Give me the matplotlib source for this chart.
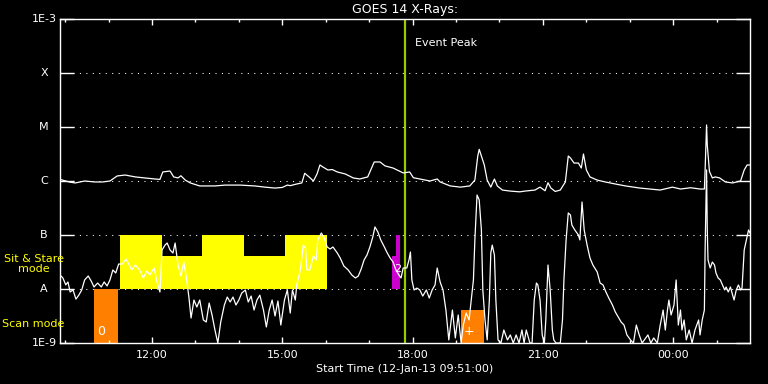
import matplotlib
matplotlib.use('Agg')
import matplotlib.pyplot as plt
from matplotlib.ticker import FixedLocator, NullLocator, FuncFormatter

# time in minutes after start (12-Jan-13 09:51), flux in W/m^2
long_t = [2, 16, 23, 36, 50, 61, 71, 81, 92, 106, 119, 133, 140, 144, 154, 159,
          165, 169, 175, 182, 195, 216, 230, 251, 271, 285, 299, 309, 316, 320,
          329, 336, 340, 346, 352, 357, 361, 365, 372, 378, 385, 396, 407, 416,
          427, 436, 444, 451, 462, 476, 485, 490, 499, 513, 523, 527, 541, 555,
          568, 575, 579, 581, 588, 592, 597, 602, 606, 613, 624, 637, 644, 658,
          665, 672, 676, 680, 686, 693, 700, 704, 707, 712, 718, 722, 725, 729,
          734, 744, 755, 769, 783, 803, 831, 848, 859, 873, 886, 892, 893, 895,
          896, 899, 903, 907, 913, 921, 931, 942, 947, 951, 955]
long_f = [1.07e-6, 9.5e-7, 9.2e-7, 1.0e-6, 9.6e-7, 9.6e-7, 1.0e-6, 1.24e-6,
          1.29e-6, 1.19e-6, 1.14e-6, 1.09e-6, 1.07e-6, 1.47e-6, 1.53e-6, 1.19e-6,
          1.14e-6, 1.25e-6, 1.04e-6, 9.2e-7, 8.1e-7, 8.1e-7, 8.4e-7, 8.4e-7,
          8.1e-7, 7.7e-7, 7.4e-7, 7.6e-7, 8.4e-7, 8.2e-7, 8.8e-7, 9.2e-7,
          1.39e-6, 1.19e-6, 1.0e-6, 1.35e-6, 1.98e-6, 1.82e-6, 1.6e-6, 1.63e-6,
          1.47e-6, 1.35e-6, 1.14e-6, 1.09e-6, 1.19e-6, 2.25e-6, 2.25e-6, 1.9e-6,
          1.74e-6, 1.41e-6, 1.47e-6, 1.15e-6, 1.09e-6, 1.0e-6, 1.09e-6, 9.6e-7,
          8.1e-7, 7.7e-7, 8.1e-7, 1.04e-6, 2.9e-6, 3.86e-6, 1.98e-6, 1.04e-6,
          7.7e-7, 1.09e-6, 8.1e-7, 6.8e-7, 6.5e-7, 6.3e-7, 6.5e-7, 6.8e-7,
          7.7e-7, 6.6e-7, 9.3e-7, 7.4e-7, 6.4e-7, 6.8e-7, 9.6e-7, 2.9e-6,
          2.67e-6, 2.15e-6, 2.15e-6, 1.74e-6, 3.16e-6, 1.6e-6, 1.19e-6, 1.04e-6,
          9.6e-7, 8.8e-7, 8.1e-7, 7.4e-7, 6.8e-7, 7.7e-7, 7.1e-7, 7.5e-7,
          7.1e-7, 7.1e-7, 1.6e-6, 1.09e-5, 4.6e-6, 1.5e-6, 1.14e-6, 1.19e-6,
          1.14e-6, 9.6e-7, 9.2e-7, 1.0e-6, 1.6e-6, 1.98e-6, 1.98e-6]

short_t = [2, 6, 10, 13, 16, 20, 24, 28, 32, 36, 41, 45, 49, 54, 59, 63, 67, 71,
           75, 79, 83, 88, 93, 97, 101, 106, 112, 117, 122, 126, 132, 136, 140,
           143, 147, 150, 154, 158, 161, 165, 169, 173, 177, 180, 183, 187, 191,
           195, 200, 204, 208, 212, 216, 220, 224, 229, 233, 237, 241, 245, 249,
           253, 258, 262, 266, 270, 274, 278, 283, 287, 291, 295, 299, 303, 307,
           312, 316, 320, 323, 327, 329, 334, 338, 341, 343, 347, 352, 356, 358,
           363, 367, 371, 375, 379, 385, 389, 394, 400, 405, 410, 414, 418, 422,
           426, 430, 434, 437, 441, 445, 450, 454, 458, 462, 466, 470, 473, 476,
           481, 484, 486, 488, 491, 495, 499, 503, 508, 512, 516, 520, 523, 527,
           531, 535, 539, 544, 548, 552, 556, 559, 563, 567, 570, 573, 575, 578,
           581, 584, 586, 589, 592, 595, 597, 599, 602, 604, 607, 611, 615, 620,
           624, 628, 632, 636, 640, 643, 646, 649, 651, 654, 657, 660, 662, 665,
           668, 671, 673, 676, 679, 682, 684, 687, 693, 696, 698, 701, 704, 707,
           709, 713, 718, 720, 723, 726, 730, 734, 738, 744, 748, 752, 756, 760,
           765, 769, 773, 777, 781, 785, 790, 794, 798, 802, 806, 814, 818, 822,
           827, 831, 835, 838, 841, 843, 846, 850, 853, 856, 859, 861, 864, 867,
           871, 875, 879, 884, 886, 889, 892, 893, 895, 896, 897, 900, 903, 906,
           908, 911, 914, 917, 920, 922, 925, 928, 931, 933, 936, 939, 942, 944,
           947, 950, 953, 955]
short_f = [1.82e-8, 1.6e-8, 1.19e-8, 1.35e-8, 8.8e-9, 9.6e-9, 6.5e-9, 7.7e-9,
           9.6e-9, 1.47e-8, 1.74e-8, 1.41e-8, 1.09e-8, 1.29e-8, 1.09e-8, 1.35e-8,
           1.14e-8, 1.47e-8, 2.25e-8, 1.98e-8, 2.9e-8, 2.9e-8, 3.59e-8, 2.9e-8,
           2.25e-8, 2.78e-8, 2.25e-8, 1.6e-8, 2.15e-8, 1.82e-8, 2.45e-8, 1.35e-8,
           8.8e-9, 5.28e-8, 6.5e-8, 7.1e-8, 5.28e-8, 4.64e-8, 7.1e-8, 2.78e-8,
           1.74e-8, 3.16e-8, 1.47e-8, 7.1e-9, 2.9e-9, 6.25e-9, 4.64e-9, 6.25e-9,
           2.67e-9, 2.45e-9, 5.5e-9, 3.3e-9, 1.74e-9, 1.0e-9, 2.45e-9, 5.05e-9,
           7.1e-9, 5.75e-9, 7.1e-9, 5.05e-9, 6.25e-9, 8.4e-9, 9.6e-9, 5.75e-9,
           7.4e-9, 4.08e-9, 6.25e-9, 7.7e-9, 4.08e-9, 1.98e-9, 4.08e-9, 6.25e-9,
           3.16e-9, 6.0e-9, 2.15e-9, 6.25e-9, 9.6e-9, 3.59e-9, 9.6e-9, 6.25e-9,
           1.19e-8, 2.25e-8, 6.5e-8, 5.75e-8, 2.25e-8, 2.25e-8, 4.08e-8, 3.45e-8,
           8.1e-8, 1.09e-7, 8.8e-8, 6.0e-8, 5.5e-8, 6.0e-8, 4.64e-8, 3.75e-8,
           2.67e-8, 2.25e-8, 1.82e-8, 1.6e-8, 1.74e-8, 2.35e-8, 3.45e-8, 4.26e-8,
           6.0e-8, 9.2e-8, 1.41e-7, 1.14e-7, 8.1e-8, 6.0e-8, 4.64e-8, 3.75e-8,
           3.16e-8, 2.25e-8, 1.82e-8, 1.6e-8, 2.45e-8, 2.45e-8, 3.45e-8, 4.84e-8,
           1.47e-8, 9.6e-9, 1.04e-8, 9.6e-9, 7.4e-9, 9.6e-9, 6.8e-9, 9.6e-9,
           1.19e-8, 2.45e-8, 1.35e-8, 9.6e-9, 4.08e-9, 1.14e-9, 4.08e-9, 1.24e-9,
           3.3e-9, 1.0e-9, 2.15e-9, 3.59e-9, 2.67e-9, 6.25e-9, 1.47e-8, 8.1e-8,
           5.5e-7, 4.45e-7, 1.24e-7, 9.6e-9, 2.67e-9, 1.14e-9, 6.25e-9, 4.64e-8,
           6.5e-8, 4.26e-8, 6.25e-9, 1.14e-9, 1.0e-9, 1.74e-9, 1.14e-9, 1.41e-9,
           1.0e-9, 1.41e-9, 1.0e-9, 1.74e-9, 1.0e-9, 1.74e-9, 1.24e-9, 1.0e-9,
           1.0e-9, 6.25e-9, 1.29e-8, 1.19e-8, 6.25e-9, 1.41e-9, 1.0e-9, 2.67e-9,
           2.78e-8, 9.6e-9, 1.74e-9, 1.14e-9, 1.0e-9, 1.0e-9, 2.67e-9, 1.47e-8,
           8.1e-8, 2.56e-7, 2.35e-7, 1.53e-7, 1.24e-7, 1.0e-7, 8.1e-8, 4.08e-7,
           1.24e-7, 6.5e-8, 3.75e-8, 2.78e-8, 2.06e-8, 1.29e-8, 1.19e-8, 8.8e-9,
           6.8e-9, 5.05e-9, 3.75e-9, 3.03e-9, 2.45e-9, 2.15e-9, 1.41e-9, 1.14e-9,
           1.0e-9, 2.15e-9, 1.41e-9, 1.0e-9, 1.41e-9, 1.0e-9, 1.24e-9, 1.0e-9,
           2.15e-9, 4.08e-9, 1.74e-9, 4.08e-9, 6.25e-9, 3.3e-9, 5.05e-9, 1.47e-8,
           2.15e-9, 4.08e-9, 1.74e-9, 2.67e-9, 1.14e-9, 1.74e-9, 1.0e-9, 1.74e-9,
           2.67e-9, 1.41e-9, 2.67e-9, 4.08e-9, 5.28e-8, 1.6e-6, 1.24e-7, 3.45e-8,
           2.45e-8, 3.16e-8, 2.78e-8, 1.98e-8, 1.6e-8, 1.47e-8, 1.19e-8, 9.6e-9,
           1.09e-8, 8.8e-9, 1.09e-8, 7.7e-9, 6.25e-9, 9.6e-9, 1.19e-8, 9.6e-9,
           1.04e-8, 5.28e-8, 8.1e-8, 1.24e-7, 1.09e-7]

# observation blocks: start, end (minutes), top flux; bottoms are fixed per mode
sit_start = [85, 143, 198, 256, 313]
sit_end = [143, 198, 256, 313, 371]
sit_top = [1e-7, 4.08e-8, 1e-7, 4.08e-8, 1e-7]
mag_start = [461, 466]
mag_end = [466, 472]
mag_top = [4.08e-8, 1e-7]
scan_start = [49, 556]
scan_end = [82, 588]
scan_top = [1e-8, 4.08e-9]
scan_labels = ['0', '+']

event_peak = 479
start_minutes = 9 * 60 + 51

yvals = [1e-9, 1e-8, 1e-7, 1e-6, 1e-5, 1e-4, 1e-3]
ynames = ['1E-9', 'A', 'B', 'C', 'M', 'X', '1E-3']

fig = plt.figure(figsize=(7.68, 3.84), dpi=100, facecolor='black')
ax = fig.add_axes([60 / 768, 41 / 384, 690 / 768, 324 / 384])
ax.set_facecolor('black')
ax.set_yscale('log')
ax.set_ylim(1e-9, 1e-3)
ax.set_xlim(2, 955)

# blocks
ax.bar(sit_start, [t - 1e-8 for t in sit_top], bottom=1e-8,
       width=[e - s for s, e in zip(sit_start, sit_end)], align='edge',
       color='#ffff00', lw=0, zorder=1)
ax.bar(mag_start, [t - 1e-8 for t in mag_top], bottom=1e-8,
       width=[e - s for s, e in zip(mag_start, mag_end)], align='edge',
       color='#cc00cc', lw=0, zorder=1)
ax.bar(scan_start, [t - 1e-9 for t in scan_top], bottom=1e-9,
       width=[e - s for s, e in zip(scan_start, scan_end)], align='edge',
       color='#ff8000', lw=0, zorder=1)
for s, e, lab in zip(scan_start, scan_end, scan_labels):
    ax.text(s + 4, 1.6e-9, lab, color='white', fontsize=9, va='center', zorder=4)
ax.text(mag_start[0] + 3, 2.3e-8, '2', color='white', fontsize=8,
        va='center', zorder=4)

# curves
ax.plot(long_t, long_f, color='white', lw=0.9, zorder=3)
ax.plot(short_t, short_f, color='white', lw=0.9, zorder=3)

# event peak
ax.axvline(event_peak, color='#99cc00', lw=1.6, zorder=2)
ax.text(event_peak + 14, 10 ** -3.45, 'Event Peak', color='white', fontsize=8,
        va='center')

# y axis
ax.yaxis.set_major_locator(FixedLocator(yvals))
ax.yaxis.set_minor_locator(NullLocator())
ax.set_yticklabels([])
for v, n in zip(yvals, ynames):
    ax.text(-16 / 690, v, n, transform=ax.get_yaxis_transform(), color='white',
            fontsize=8, ha='center', va='center')
for v in yvals[1:-1]:
    ax.axhline(v, color='white', lw=0.75, ls=(0, (1, 5.2)), zorder=0)
ax.tick_params(axis='y', which='major', direction='in', length=10, width=1,
               left=True, right=True, colors='white')

# x axis
ax.xaxis.set_major_locator(FixedLocator([129, 309, 489, 669, 849]))
ax.xaxis.set_minor_locator(FixedLocator(list(range(9, 955, 60))))
ax.xaxis.set_major_formatter(FuncFormatter(
    lambda m, p: '%02d:%02d' % (((start_minutes + m) // 60) % 24, (start_minutes + m) % 60)))
ax.tick_params(axis='x', which='major', direction='in', length=4.5, width=1,
               top=True, bottom=True, colors='white', labelsize=8, pad=5)
ax.tick_params(axis='x', which='minor', direction='in', length=2.2, width=1,
               top=True, bottom=True, colors='white')
for sp in ax.spines.values():
    sp.set_color('white')
    sp.set_linewidth(1)

ax.set_xlabel('Start Time (12-Jan-13 09:51:00)', color='white', fontsize=8,
              labelpad=3)
ax.set_title('GOES 14 X-Rays:', color='white', fontsize=9, pad=4)

fig.text(34 / 768, 1 - 264 / 384, 'Sit & Stare\nmode', color='#ffff00',
         fontsize=8, ha='center', va='center', linespacing=1.0)
fig.text(2 / 768, 1 - 324 / 384, 'Scan mode', color='#ffff00', fontsize=8,
         ha='left', va='center')

fig.savefig('out.png', dpi=100, facecolor='black')
